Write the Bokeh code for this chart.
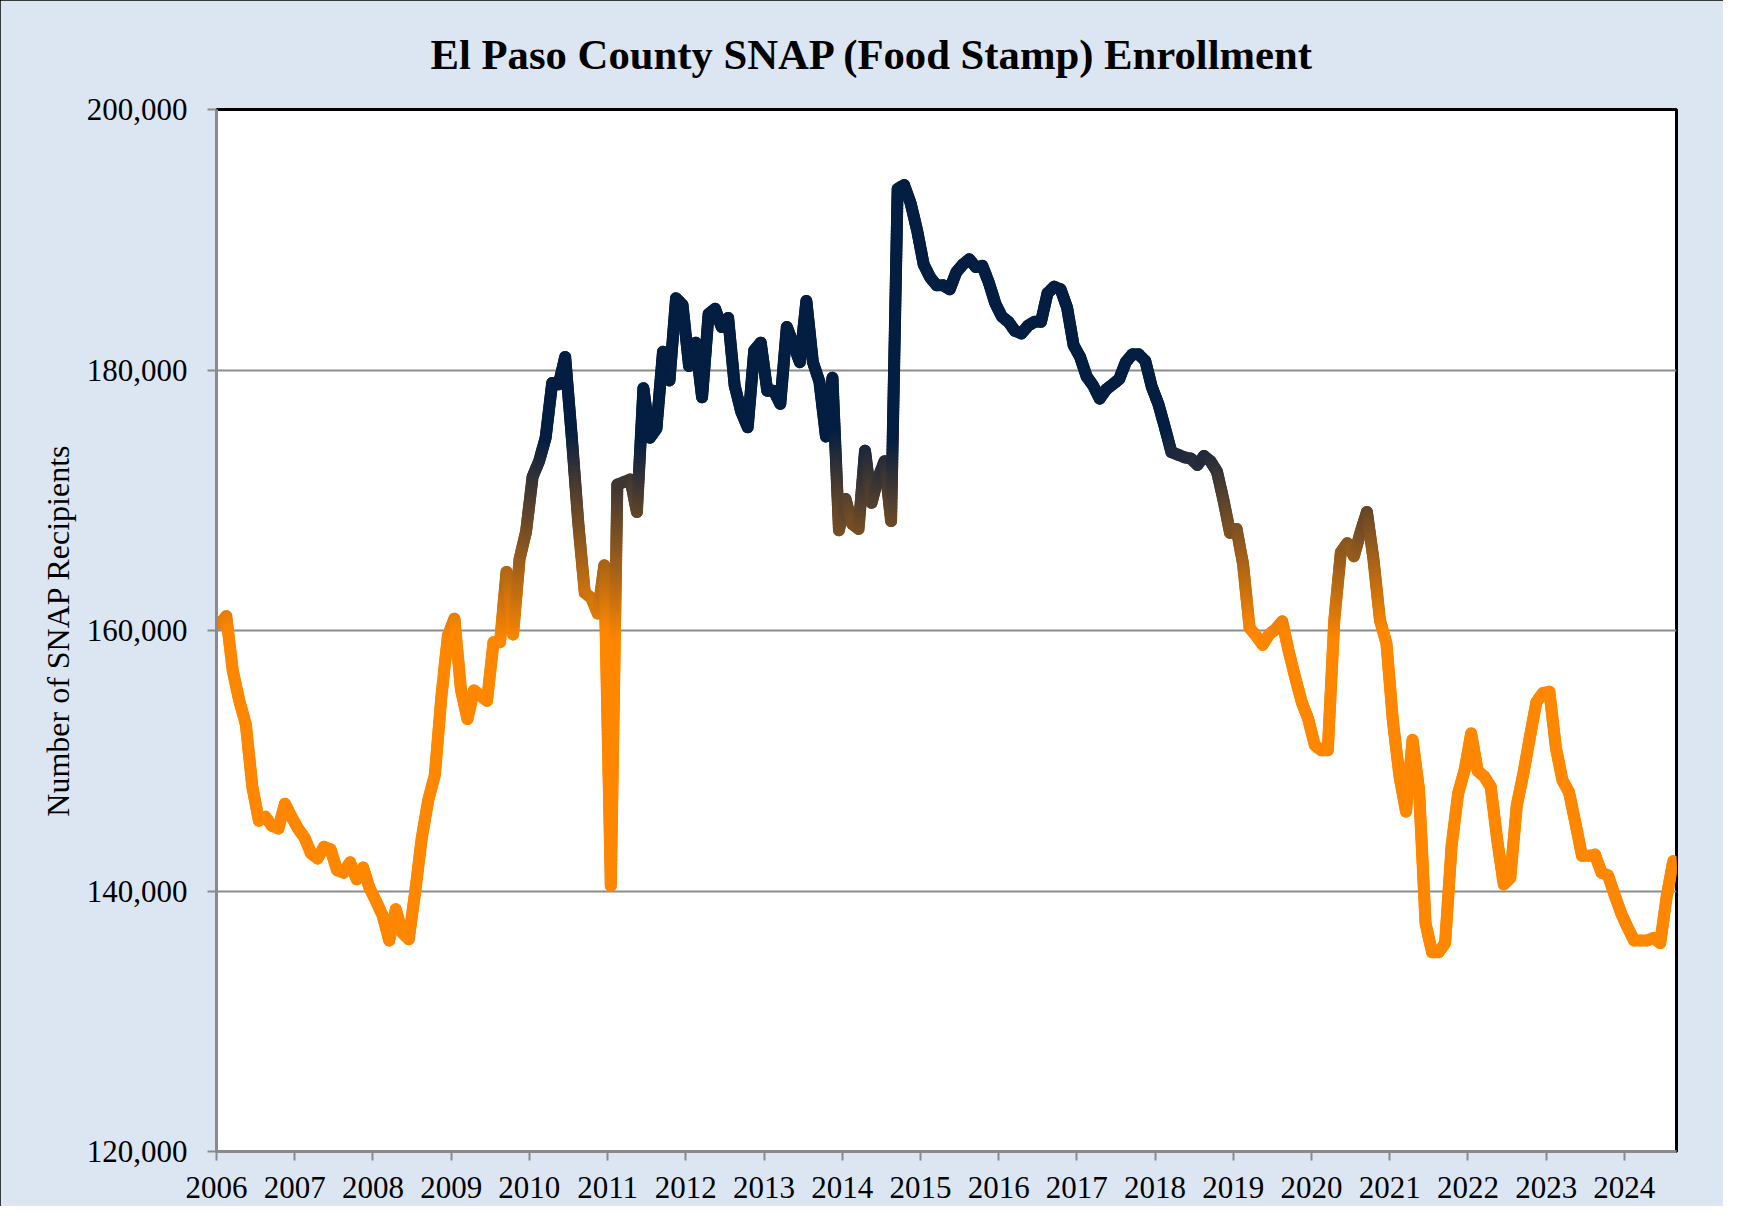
import numpy as np
from bokeh.plotting import figure
from bokeh.models import Range1d, FixedTicker, NumeralTickFormatter
from bokeh.embed import file_html
from bokeh.resources import INLINE

# ---------------- data ----------------
title_text = "El Paso County SNAP (Food Stamp) Enrollment"
y_label = "Number of SNAP Recipients"
first_year = 2006            # series starts January 2006, monthly
year_ticks = list(range(2006, 2025))
y_ticks = [120000, 140000, 160000, 180000, 200000]

recipients = [
    160500, 161100, 156900, 154600, 152800, 148000, 145400, 145700, 145000, 144800, 146700, 145700,  # 2006
    144800, 144100, 142900, 142500, 143400, 143200, 141600, 141400, 142200, 140900, 141800, 140200,  # 2007
    139200, 138100, 136200, 138600, 136800, 136300, 140000, 144100, 147000, 148900, 154900, 159600,  # 2008
    160900, 155500, 153200, 155400, 155000, 154600, 159100, 159100, 164500, 159700, 165500, 167600,  # 2009
    171800, 173000, 174800, 179000, 178900, 181000, 174900, 168300, 162900, 162500, 161300, 165000,  # 2010
    140400, 171200, 171400, 171600, 169100, 178600, 174800, 175500, 181400, 179200, 185500, 185000,  # 2011
    180300, 182100, 177900, 184300, 184700, 183300, 184000, 178800, 176800, 175600, 181500, 182100,  # 2012
    178400, 178400, 177400, 183300, 182000, 180600, 185300, 180600, 179100, 174900, 179400, 167700,  # 2013
    170100, 168200, 167800, 173800, 169800, 171700, 173000, 168400, 193900, 194200, 192800, 190700,  # 2014
    188100, 187100, 186500, 186500, 186200, 187500, 188100, 188500, 187900, 188000, 186700, 185100,  # 2015
    184100, 183700, 183000, 182800, 183400, 183700, 183700, 185900, 186400, 186200, 184800, 181900,  # 2016
    181000, 179500, 178800, 177800, 178500, 178900, 179300, 180600, 181200, 181200, 180700, 178700,  # 2017
    177400, 175600, 173700, 173500, 173300, 173200, 172700, 173400, 173000, 172200, 170000, 167500,  # 2018
    167800, 165100, 160200, 159600, 158900, 159700, 160100, 160700, 158400, 156400, 154500, 153200,  # 2019
    151200, 150800, 150800, 160800, 166000, 166700, 165700, 167500, 169100, 165500, 160800, 159000,  # 2020
    153000, 148800, 146100, 151600, 147800, 137500, 135300, 135300, 136000, 143500, 147500, 149300,  # 2021
    152100, 149200, 148800, 148000, 143900, 140500, 141000, 146600, 149000, 151800, 154500, 155200,  # 2022
    155300, 151000, 148500, 147600, 145200, 142700, 142700, 142800, 141400, 141200, 139700, 138300,  # 2023
    137200, 136200, 136200, 136200, 136400, 136000, 139600, 142300,                                  # 2024
]

# month positions (mid-month, in decimal years)
month_x = [first_year + (i + 0.5) / 12.0 for i in range(len(recipients))]

# ---------------- styling helpers ----------------
ORANGE = np.array([255, 135, 0], dtype=float)
NAVY = np.array([4, 30, 66], dtype=float)
LOW_STOP, HIGH_STOP = 159500.0, 175000.0


def grad_color(v):
    t = min(max((v - LOW_STOP) / (HIGH_STOP - LOW_STOP), 0.0), 1.0)
    c = ORANGE * (1 - t) + NAVY * t
    return "#%02x%02x%02x" % tuple(int(round(a)) for a in c)


# split each segment into short pieces so the stroke gets a vertical colour gradient
xs_p, ys_p, cols = [], [], []
for k in range(len(recipients) - 1):
    x0, x1 = month_x[k], month_x[k + 1]
    y0, y1 = recipients[k], recipients[k + 1]
    n = max(1, int(np.ceil(abs(y1 - y0) / 250.0)))
    for j in range(n):
        a, b = j / n, (j + 1) / n
        xs_p.append([x0 + (x1 - x0) * a, x0 + (x1 - x0) * b])
        ys_p.append([y0 + (y1 - y0) * a, y0 + (y1 - y0) * b])
        cols.append(grad_color(y0 + (y1 - y0) * (a + b) / 2))

FONT = "Liberation Serif"
BG = "#DCE6F2"

p = figure(
    width=1723, height=1206,
    output_backend="svg", toolbar_location=None,
    x_range=Range1d(2006, 2024 + 8 / 12), y_range=Range1d(120000, 200000),
    min_border_left=216, min_border_right=47, min_border_top=109, min_border_bottom=55,
)
p.styles = {"outline": "3px solid black", "outline-offset": "-3px"}
p.background_fill_color = "white"
p.border_fill_color = BG
p.outline_line_color = "black"
p.outline_line_width = 3

# title
p.title.text = title_text
p.title.align = "left"
p.title.offset = 214
p.title.vertical_align = "top"
p.title.standoff = 59
p.title.text_font = FONT
p.title.text_font_size = "42.7px"
p.title.text_font_style = "bold"
p.title.text_color = "black"

p.multi_line(xs_p, ys_p, line_color=cols, line_width=12, line_cap="round", line_join="round")

# axes
for ax in (p.xaxis[0], p.yaxis[0]):
    ax.axis_line_color = "#8a8a8a"
    ax.axis_line_width = 3
    ax.major_tick_line_color = "#8a8a8a"
    ax.major_tick_line_width = 2
    ax.major_tick_out = 9
    ax.major_tick_in = 0
    ax.minor_tick_line_color = None
    ax.major_label_text_font = FONT
    ax.major_label_text_font_size = "31px"
    ax.major_label_text_color = "black"

p.xaxis.ticker = FixedTicker(ticks=year_ticks)
p.xaxis.major_label_standoff = 16
p.xaxis.major_label_text_line_height = 0.7
p.yaxis.ticker = FixedTicker(ticks=y_ticks)
p.yaxis.formatter = NumeralTickFormatter(format="0,0")
p.yaxis.major_label_standoff = 20
p.yaxis.axis_label = y_label
p.yaxis.axis_label_text_font = FONT
p.yaxis.axis_label_text_font_size = "32px"
p.yaxis.axis_label_text_font_style = "normal"
p.yaxis.axis_label_text_color = "black"
p.yaxis.axis_label_standoff = 8

p.xgrid.visible = False
p.ygrid.grid_line_color = "#8c8c8c"
p.ygrid.grid_line_width = 2

open("out.html", "w").write(file_html(p, INLINE))
